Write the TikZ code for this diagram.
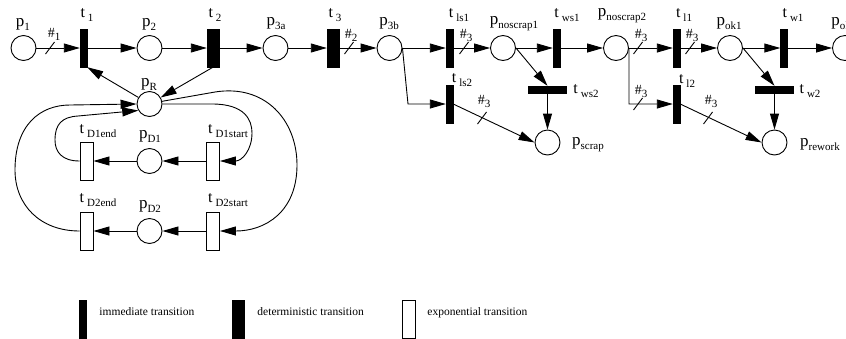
\documentclass[tikz,border=0pt]{standalone}
\usepackage{fontspec}
\setmainfont{Liberation Serif}
\usetikzlibrary{arrows.meta}

% place label: p with a lowered subscript
\newcommand\pnP[1]{{\fontsize{17}{17}\selectfont p}\raisebox{-4pt}{\fontsize{11}{11}\selectfont #1}}
% transition label: t, a small gap, then a lowered subscript
\newcommand\pnT[1]{{\fontsize{16}{16}\selectfont t}\hspace{3pt}\raisebox{-4pt}{\fontsize{11}{11}\selectfont #1}}
% arc multiplicity label
\newcommand\pnH[1]{{\fontsize{14}{14}\selectfont\#}\raisebox{-3pt}{\fontsize{11}{11}\selectfont #1}}

\begin{document}
\begin{tikzpicture}[x=1pt,y=-1pt,
  line width=0.9pt,
  >={Triangle[length=16pt,width=9pt]},
  pnplace/.style={circle,draw,fill=white,minimum size=25pt,inner sep=0pt},
  immtr/.style={rectangle,draw=black,fill=black,line width=0.4pt,minimum width=7pt,minimum height=38pt,inner sep=0pt},
  immtrh/.style={immtr,minimum width=38pt,minimum height=7pt},
  dettr/.style={immtr,minimum width=12pt},
  exptr/.style={rectangle,draw,fill=white,line width=0.9pt,minimum width=13pt,minimum height=38pt,inner sep=0pt},
  lbl/.style={inner sep=0pt},
  legtext/.style={inner sep=0pt,anchor=base west,font=\fontsize{11.5}{12}\selectfont},
  hashmark/.style={line width=0.9pt}
]
\useasboundingbox (0,0) rectangle (846,338);

% ---- places ----
\node[pnplace] (p1)   at (23.5,48) {};
\node[pnplace] (p2)   at (149.5,48) {};
\node[pnplace] (p3a)  at (275.5,48) {};
\node[pnplace] (p3b)  at (389.5,48) {};
\node[pnplace] (pns1) at (503,48) {};
\node[pnplace] (pns2) at (616,48) {};
\node[pnplace] (pok1) at (730,48) {};
\node[pnplace] (pok)  at (845,48) {};
\node[pnplace] (pR)   at (149.5,104) {};
\node[pnplace] (pD1)  at (149.5,161) {};
\node[pnplace] (pD2)  at (149.5,231) {};
\node[pnplace] (pscrap)  at (547.5,142.5) {};
\node[pnplace] (prework) at (774.5,142.5) {};

% ---- transitions ----
\node[immtr] (t1)   at (83.5,48) {};
\node[dettr] (t2)   at (213,48) {};
\node[dettr] (t3)   at (333,48) {};
\node[immtr] (tls1) at (449.5,48) {};
\node[immtr] (tws1) at (556.5,48) {};
\node[immtr] (tl1)  at (676.5,48) {};
\node[immtr] (tw1)  at (784,48) {};
\node[immtr] (tls2) at (449.5,104) {};
\node[immtr] (tl2)  at (676.5,104) {};
\node[immtrh] (tws2) at (547.5,89.5) {};
\node[immtrh] (tw2)  at (774.5,89.5) {};
\node[exptr] (tD1end)   at (86.5,161) {};
\node[exptr] (tD1start) at (213,161) {};
\node[exptr] (tD2end)   at (86.5,231) {};
\node[exptr] (tD2start) at (213,231) {};

% ---- labels ----
\node[lbl] (Lp1)   at (23,24)  {\pnP{1}};
\node[lbl] (Lt1)   at (87,15)  {\pnT{1}};
\node[lbl] (Lp2)   at (149,24) {\pnP{2}};
\node[lbl] (Lt2)   at (215,15) {\pnT{2}};
\node[lbl] (Lp3a)  at (276,24) {\pnP{3a}};
\node[lbl] (Lt3)   at (335,15) {\pnT{3}};
\node[lbl] (Lp3b)  at (389,24) {\pnP{3b}};
\node[lbl] (Ltls1) at (459,15) {\pnT{ls1}};
\node[lbl] (Lpns1) at (514,24) {\pnP{noscrap1}};
\node[lbl] (Ltws1) at (567,15) {\pnT{ws1}};
\node[lbl] (Lpns2) at (622,16) {\pnP{noscrap2}};
\node[lbl] (Ltl1)  at (684,15) {\pnT{l1}};
\node[lbl] (Lpok1) at (729,24) {\pnP{ok1}};
\node[lbl] (Ltw1)  at (793,15) {\pnT{w1}};
\node[lbl,anchor=west] (Lpok) at (831,24) {\pnP{ok}};
\node[lbl] (LpR)   at (149,84) {\pnP{R}};
\node[lbl] (Ltls2) at (462,80) {\pnT{ls2}};
\node[lbl] (Ltws2) at (586,91) {\pnT{ws2}};
\node[lbl] (Ltl2)  at (687,81) {\pnT{l2}};
\node[lbl] (Ltw2)  at (810,91) {\pnT{w2}};
\node[lbl] (Lpscrap)  at (588,145) {\pnP{scrap}};
\node[lbl] (Lprework) at (820,145) {\pnP{rework}};
\node[lbl] (LtD1end)   at (98,131)  {\pnT{D1end}};
\node[lbl] (LpD1)      at (150,137) {\pnP{D1}};
\node[lbl] (LtD1start) at (228,131) {\pnT{D1start}};
\node[lbl] (LtD2end)   at (98,200)  {\pnT{D2end}};
\node[lbl] (LpD2)      at (150,207) {\pnP{D2}};
\node[lbl] (LtD2start) at (228,200) {\pnT{D2start}};

% ---- main line ----
\draw[->] (p1) -- (t1);
\draw[->] (t1) -- (p2);
\draw[->] (p2) -- (t2);
\draw[->] (t2) -- (p3a);
\draw[->] (p3a) -- (t3);
\draw[->] (t3) -- (p3b);
\draw[->] (p3b) -- (tls1);
\draw[->] (tls1) -- (pns1);
\draw[->] (pns1) -- (tws1);
\draw[->] (tws1) -- (pns2);
\draw[->] (pns2) -- (tl1);
\draw[->] (tl1) -- (pok1);
\draw[->] (pok1) -- (tw1);
\draw[->] (tw1) -- (pok);

% ---- branches ----
\coordinate (b1) at (408,104);
\coordinate (b2) at (629,104);
\draw[->] (p3b.east) -- (b1) -- (tls2);
\draw[->] (pns2.east) -- (b2) -- (tl2);
\draw[->] (pns1.east) -- (tws2.north);
\draw[->] (pok1.east) -- (tw2.north);
\draw[->] (tws2) -- (pscrap);
\draw[->] (tw2) -- (prework);
\draw[->] (tls2.east) -- (pscrap.west);
\draw[->] (tl2.east) -- (prework.west);

% ---- resource place ----
\draw[->] (pR) -- (t1.south east);
\draw[->] (t2.south) -- (pR);

% ---- down-time loops ----
\draw[->] (tD1start) -- (pD1);
\draw[->] (pD1) -- (tD1end);
\draw[->] (tD2start) -- (pD2);
\draw[->] (pD2) -- (tD2end);

\coordinate (r1) at (212,104);
\coordinate (r2) at (215,92);
\coordinate (l1) at (78,116);
\coordinate (l2) at (70,105);
\draw[->] (pR.east) -- (r1) .. controls (245,104) and (252,120) .. (252,133)
          .. controls (252,150) and (242,161) .. (tD1start.east);
\draw[->] (pR.12) -- (r2) .. controls (265,84) and (297,120) .. (297,165)
          .. controls (297,212) and (265,231) .. (tD2start.east);
\draw[->] (tD1end.west) .. controls (62,161) and (55,152) .. (55,140)
          .. controls (55,124) and (62,117) .. (l1) -- (pR.210);
\draw[->] (tD2end.west) .. controls (40,231) and (15,205) .. (15,170)
          .. controls (15,125) and (40,105) .. (l2) -- (pR.west);

% ---- multiplicity marks ----
\foreach \hx/\hy in {50/48, 349/48, 464/48, 638/48, 690/48, 638/104, 482/118, 708/118}
  \draw[hashmark] (\hx-4.5,\hy+6) -- (\hx+4.5,\hy-6);
\node[lbl] (h1) at (54,34)  {\pnH{1}};
\node[lbl] (h2) at (351,35) {\pnH{2}};
\node[lbl] (h3) at (466,35) {\pnH{3}};
\node[lbl] (h4) at (641,35) {\pnH{3}};
\node[lbl] (h5) at (692,35) {\pnH{3}};
\node[lbl] (h6) at (641,91) {\pnH{3}};
\node[lbl] (h7) at (484,101) {\pnH{3}};
\node[lbl] (h8) at (711,101) {\pnH{3}};

% ---- legend ----
\node[immtr] (lgI) at (83,319) {};
\node[legtext] (lgIt) at (99,315) {immediate transition};
\node[dettr] (lgD) at (238,319) {};
\node[legtext] (lgDt) at (257,315) {deterministic transition};
\node[exptr] (lgE) at (408.5,319) {};
\node[legtext] (lgEt) at (427,315) {exponential transition};
\end{tikzpicture}
\end{document}
